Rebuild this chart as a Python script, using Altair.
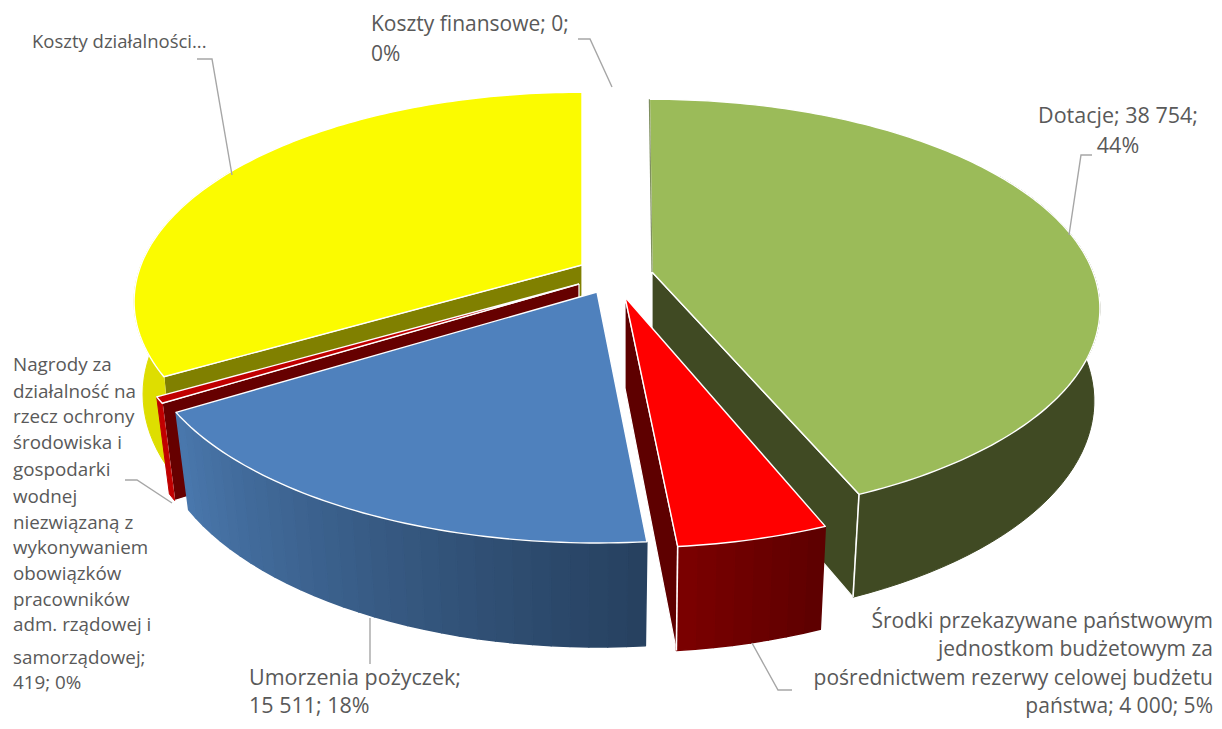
import math
import altair as alt
import pandas as pd

categories = ["Dotacje", "Środki przekazywane", "Umorzenia pożyczek", "Nagrody", "Koszty działalności", "Koszty finansowe"]
values = [38754, 4000, 15511, 419, 29394, 0]

# exploded-pie styling per slice: apex, radius scale, small rotation at each end
apex = [(652, 272), (625, 297), (597, 292), (579, 284), (582, 265), (615, 270)]
radius = [1.0, 1.02, 1.02, 1.01, 1.0, 1.0]
turn = [(-0.4, -1.6), (-0.3, -0.3), (0, 0), (0, 0), (0, 0), (0, 0)]
shrink = [1.0, 0.975, 0.97, 0.97, 0.98, 1.0]
shift = [6, 0, 0, 0, 0, 0]
top_col = ["#9BBB59", "#FF0000", "#4F81BD", "#C00000", "#FBFB00", "#FFFFFF"]
rim_right = ["#404A23", "#5C0000", "#26405F", "#C00000", "#DEDE00", "#FFFFFF"]
rim_left = ["#404A23", "#7C0000", "#4A78AD", "#C00000", "#DEDE00", "#FFFFFF"]
face_col = ["#404A23", "#5E0000", None, "#660000", "#808000", None]
face_side = ["end", "end", None, "start", "start", None]
paint = [4, 0, 3, 2, 1]

A, B, K = 441, 203, 0.175

total = sum(values)
bounds = [0]
for v in values:
    bounds.append(bounds[-1] + v / total * 360)


def top_pt(s, t):
    a0, a1 = bounds[s], bounds[s + 1]
    w = (t - a0) / (a1 - a0) if a1 > a0 else 0
    th = math.radians(t + turn[s][0] + (turn[s][1] - turn[s][0]) * w)
    u, v = math.sin(th), -math.cos(th)
    f = radius[s] / (1 - K * v)
    return apex[s][0] + A * u * f, apex[s][1] + B * v * f, v


def low_pt(s, t):
    x, y, v = top_pt(s, t)
    return apex[s][0] + (x - apex[s][0]) * shrink[s] - shift[s], y + 90 + 14 * v


def hexmix(a, b, w):
    pa = [int(a[i:i + 2], 16) for i in (1, 3, 5)]
    pb = [int(b[i:i + 2], 16) for i in (1, 3, 5)]
    return "#%02X%02X%02X" % tuple(round(p + (q - p) * w) for p, q in zip(pa, pb))


rows = []
pid = [0]


def add(points, fill, stroke, sw):
    pid[0] += 1
    for i, (x, y) in enumerate(points):
        rows.append(dict(poly=pid[0], i=i, x=x, y=y, fill=fill, stroke=stroke, sw=sw))


for s in paint:
    a0, a1 = bounds[s], bounds[s + 1]
    ax, ay = apex[s]
    # the outer wall only shows on the front part of the pie
    wall0 = max(a0, 60.0) if s == 0 else a0
    wall1 = min(a1, 300.0) if s == 4 else a1
    n = max(2, int((wall1 - wall0) / 2))
    ts = [wall0 + (wall1 - wall0) * j / n for j in range(n + 1)]
    # inner cut face
    if face_side[s]:
        t = a1 if face_side[s] == "end" else a0
        tx, ty, _ = top_pt(s, t)
        lx, ly = low_pt(s, t)
        add([(ax, ay), (tx, ty), (lx, ly), (ax, ay + 91), (ax, ay)], face_col[s], "#FFFFFF", 1.2)
    # outer wall
    if rim_right[s] == rim_left[s]:
        upper = [top_pt(s, t)[:2] for t in ts]
        lower = [low_pt(s, t) for t in reversed(ts)]
        add(upper + lower + upper[:1], rim_left[s], rim_left[s], 1.0)
    else:
        for j in range(n):
            c = hexmix(rim_right[s], rim_left[s], (j + 0.5) / n)
            p, q = ts[j], ts[j + 1]
            xa, ya, _ = top_pt(s, p)
            xb, yb, _ = top_pt(s, q)
            xc, yc = low_pt(s, q)
            xd, yd = low_pt(s, p)
            add([(xa, ya), (xb, yb), (xc, yc), (xd, yd), (xa, ya)], c, c, 1.5)
    # bright front edge of the wall
    if s in (0, 1):
        e = a1
        xa, ya, _ = top_pt(s, e)
        xb, yb = low_pt(s, e)
        add([(xa, ya), (xb, yb)], "transparent", "#FFFFFF", 1.6)
    # top surface
    m = max(2, int(a1 - a0))
    arc = [top_pt(s, a0 + (a1 - a0) * j / m)[:2] for j in range(m + 1)]
    add([(ax, ay)] + arc + [(ax, ay)], top_col[s], "#FFFFFF", 1.4)
    if s == 0:
        add([arc[0], (ax, ay)], "transparent", "#7F8F60", 1.2)

poly = pd.DataFrame(rows)

x_scale = alt.Scale(domain=[8, 1214], nice=False, zero=False)
y_scale = alt.Scale(domain=[721, 8], nice=False, zero=False)
X = alt.X("x:Q", scale=x_scale, axis=None)
Y = alt.Y("y:Q", scale=y_scale, axis=None)

pie = alt.Chart(poly).mark_line(strokeJoin="round", interpolate="linear").encode(
    x=X, y=Y,
    order=alt.Order("i:Q"),
    detail="poly:N",
    fill=alt.Fill("fill:N", scale=None),
    stroke=alt.Stroke("stroke:N", scale=None),
    strokeWidth=alt.StrokeWidth("sw:Q", scale=None),
)

leaders = [
    [(578, 39), (590, 39), (612, 87)],
    [(197, 59), (212, 59), (232, 175)],
    [(1092, 155), (1081, 155), (1069, 235)],
    [(125, 480), (137, 480), (172, 503)],
    [(370, 618), (370, 664)],
    [(752, 643), (778, 690), (792, 690)],
]
lead_rows = [dict(l=k, i=i, x=x, y=y) for k, pts in enumerate(leaders) for i, (x, y) in enumerate(pts)]
lead = alt.Chart(pd.DataFrame(lead_rows)).mark_line(color="#A6A6A6", strokeWidth=1.4).encode(
    x=X, y=Y, order=alt.Order("i:Q"), detail="l:N")

left_labels = [
    ("Koszty działalności...", 32, 42, 18.5),
    ("Koszty finansowe; 0;", 371, 25, 21),
    ("0%", 371, 55, 21),
    ("Nagrody za", 13, 365, 18.8),
    ("działalność na", 13, 392, 18.8),
    ("rzecz ochrony", 13, 417, 18.8),
    ("środowiska i", 13, 443, 18.8),
    ("gospodarki", 13, 470, 18.8),
    ("wodnej", 13, 497, 18.8),
    ("niezwiązaną z", 13, 523, 18.8),
    ("wykonywaniem", 13, 548, 18.8),
    ("obowiązków", 13, 574, 18.8),
    ("pracowników", 13, 600, 18.8),
    ("adm. rządowej i", 13, 625, 18.8),
    ("samorządowej;", 13, 658, 18.8),
    ("419; 0%", 13, 683, 18.8),
    ("Umorzenia pożyczek;", 249, 679, 21.5),
    ("15 511; 18%", 249, 707, 21.5),
]
center_labels = [
    ("Dotacje; 38 754;", 1118, 117, 21.5),
    ("44%", 1118, 147, 21.5),
]
right_labels = [
    ("Środki przekazywane państwowym", 1213, 622, 21),
    ("jednostkom budżetowym za", 1213, 650, 21),
    ("pośrednictwem rezerwy celowej budżetu", 1213, 679, 21),
    ("państwa; 4 000; 5%", 1213, 707, 21),
]


def text_layer(items, align):
    df = pd.DataFrame(items, columns=["t", "x", "y", "s"])
    return alt.Chart(df).mark_text(align=align, baseline="middle", font="Open Sans", color="#595959").encode(
        x=X, y=Y, text="t:N", size=alt.Size("s:Q", scale=None))


chart = alt.layer(
    pie, lead,
    text_layer(left_labels, "left"),
    text_layer(center_labels, "center"),
    text_layer(right_labels, "right"),
).properties(width=1206, height=713, padding=0, autosize="none", background="white").configure_view(stroke=None)

chart.save("out.html", embed_options={"renderer": "svg", "actions": False})
